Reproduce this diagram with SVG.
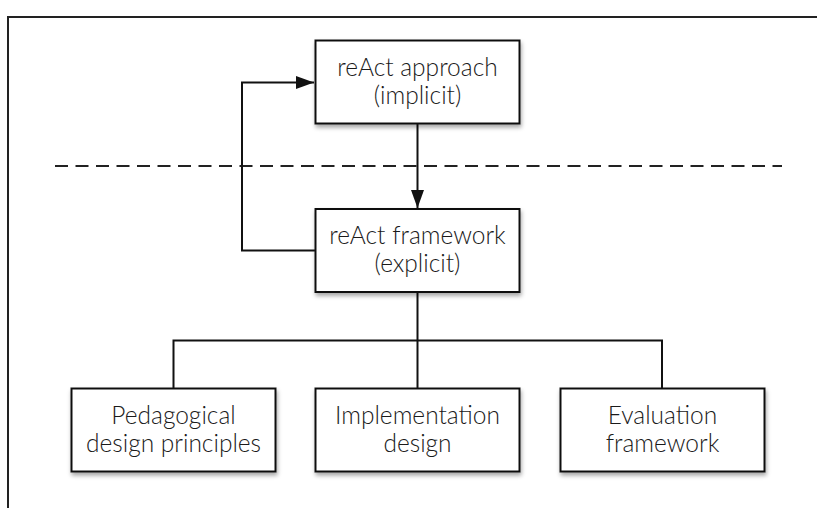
<svg xmlns="http://www.w3.org/2000/svg" width="817" height="508" viewBox="0 0 817 508">
<style>
.box{fill:#fff;stroke:#111;stroke-width:2;filter:url(#sh)}
.lbl{font-family:Lato,"Open Sans",sans-serif;font-size:24.5px;fill:#1a1a1a;text-anchor:middle;font-weight:300}
.ln{fill:none;stroke:#111;stroke-width:2}
</style>
<defs>
<filter id="sh" x="-10%" y="-10%" width="125%" height="130%">
<feDropShadow dx="1" dy="3" stdDeviation="2" flood-color="#000" flood-opacity="0.35"/>
</filter>
<marker id="ah" viewBox="0 0 18 13" refX="18" refY="6.5" markerWidth="18" markerHeight="13" markerUnits="userSpaceOnUse" orient="auto">
<path d="M0,0 L18,6.5 L0,13 Z" fill="#111"/>
</marker>
</defs>
<rect width="817" height="508" fill="#fff"/>
<path d="M8,508 V17 H817" fill="none" stroke="#222" stroke-width="2"/>
<line x1="55" y1="166" x2="782" y2="166" stroke="#222" stroke-width="2" stroke-dasharray="13,7.5"/>
<g id="connectors">
<path class="ln" d="M417.5,124 V208" marker-end="url(#ah)"/>
<path class="ln" d="M315,250.5 H242 V82.5 H314" marker-end="url(#ah)"/>
<path class="ln" d="M417.5,292 V388"/>
<path class="ln" d="M173.5,388 V340.5 H662 V388"/>
</g>
<g id="approach">
<rect class="box" x="315.5" y="40.5" width="204" height="83"/>
<text class="lbl" x="417.5" y="76">reAct approach</text>
<text class="lbl" x="417.5" y="104">(implicit)</text>
</g>
<g id="framework">
<rect class="box" x="315.5" y="209" width="204" height="83"/>
<text class="lbl" x="417.5" y="244">reAct framework</text>
<text class="lbl" x="417.5" y="272">(explicit)</text>
</g>
<g id="pedagogical">
<rect class="box" x="71.5" y="388.5" width="204" height="83"/>
<text class="lbl" x="173.5" y="424">Pedagogical</text>
<text class="lbl" x="173.5" y="452">design principles</text>
</g>
<g id="implementation">
<rect class="box" x="315.5" y="388.5" width="204" height="83"/>
<text class="lbl" x="417.5" y="424">Implementation</text>
<text class="lbl" x="417.5" y="452">design</text>
</g>
<g id="evaluation">
<rect class="box" x="560.5" y="388.5" width="204" height="83"/>
<text class="lbl" x="662.5" y="424">Evaluation</text>
<text class="lbl" x="662.5" y="452">framework</text>
</g>
</svg>
